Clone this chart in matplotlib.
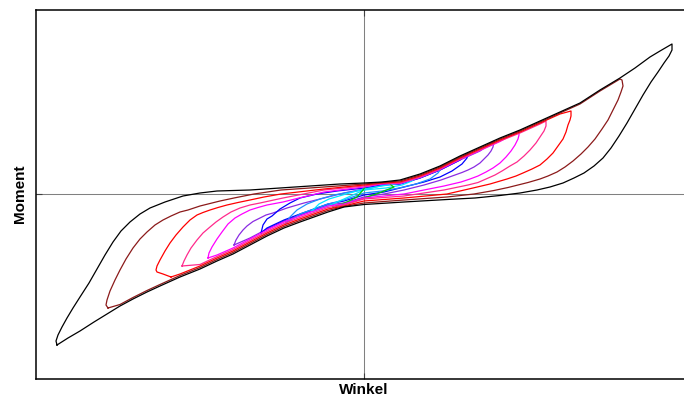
import numpy as np
import matplotlib.pyplot as plt

# shared envelope branches (Winkel, Moment)
upper_x = [30.8, 29.6, 28.6, 27.1, 25.6, 23.6, 21.6, 19.6, 17.6, 15.6, 13.6, 11.6, 9.6, 8.6, 7.6, 6.6, 5.6, 4.6, 3.6]
upper_y = [15.0, 14.3, 13.7, 12.6, 11.6, 10.4, 9.1, 8.2, 7.3, 6.4, 5.6, 4.7, 3.8, 3.3, 2.8, 2.4, 2.0, 1.7, 1.4]
lower_x = [-30.8, -29.6, -28.4, -27.0, -25.7, -24.4, -23.1, -21.7, -20.4, -18.4, -16.4, -14.7, -13.1, -11.4,
           -9.7, -8.0, -6.4, -5.0, -3.6]
lower_y = [-15.1, -14.4, -13.7, -12.8, -12.0, -11.2, -10.5, -9.8, -9.2, -8.3, -7.5, -6.7, -6.0, -5.1,
           -4.2, -3.4, -2.8, -2.3, -1.8]

# loading branch (-> right tip) and unloading branch (-> left tip) of each cycle
rise_black = [(-2.0, -1.3), (0.0, -1.05), (4.0, -0.8), (8.3, -0.55), (11.1, -0.4), (13.6, -0.15), (15.6, 0.1),
              (17.3, 0.4), (18.6, 0.7), (19.9, 1.1), (21.0, 1.6), (22.0, 2.1), (23.0, 2.8), (23.9, 3.6),
              (24.7, 4.6), (25.5, 5.8), (26.3, 7.1), (27.1, 8.5), (27.9, 9.9), (28.7, 11.2), (29.4, 12.2),
              (30.0, 13.1), (30.5, 13.8), (30.8, 14.4), (30.8, 15.0)]
fall_black = [(1.8, 1.2), (0.0, 1.1), (-2.4, 1.0), (-5.4, 0.8), (-8.4, 0.6), (-11.4, 0.4), (-14.7, 0.3),
              (-16.4, 0.1), (-18.1, -0.2), (-19.9, -0.8), (-21.4, -1.4), (-22.4, -2.0), (-23.4, -2.8),
              (-24.3, -3.7), (-25.1, -4.8), (-25.9, -6.1), (-26.7, -7.5), (-27.5, -8.9), (-28.4, -10.3),
              (-29.1, -11.4), (-29.7, -12.4), (-30.2, -13.3), (-30.6, -14.1), (-30.8, -14.7), (-30.7, -15.1)]

rise_brown = [(-2.0, -1.25), (0.0, -0.9), (4.0, -0.6), (8.3, -0.3), (11.0, 0.0), (13.0, 0.35), (14.4, 0.65),
              (16.4, 1.15), (17.6, 1.5), (18.4, 1.8), (19.3, 2.2), (20.1, 2.7), (20.9, 3.3), (21.7, 4.0),
              (22.4, 4.7), (23.1, 5.5), (23.8, 6.5), (24.4, 7.4), (24.9, 8.4), (25.4, 9.4), (25.7, 10.2),
              (25.9, 10.8), (25.8, 11.4)]
fall_brown = [(1.8, 1.15), (0.0, 1.0), (-4.0, 0.7), (-8.3, 0.4), (-11.0, 0.0), (-13.0, -0.4), (-14.4, -0.7),
              (-16.4, -1.2), (-17.6, -1.6), (-18.4, -1.8), (-19.3, -2.2), (-20.1, -2.6), (-20.9, -3.1),
              (-21.7, -3.8), (-22.4, -4.5), (-23.1, -5.4), (-23.8, -6.5), (-24.4, -7.6), (-24.9, -8.6),
              (-25.4, -9.7), (-25.7, -10.6), (-25.8, -11.1), (-25.6, -11.4)]

rise_red = [(-2.0, -1.2), (0.0, -0.7), (4.0, -0.4), (8.3, 0.0), (10.9, 0.6), (12.6, 1.0), (14.3, 1.5), (15.2, 1.8),
            (15.9, 2.1), (16.8, 2.5), (17.6, 2.9), (18.3, 3.5), (18.9, 4.1), (19.4, 4.8), (19.9, 5.5), (20.2, 6.2),
            (20.4, 6.9), (20.6, 7.4), (20.7, 7.8), (20.7, 8.3)]
fall_red = [(1.8, 1.1), (0.0, 0.9), (-4.0, 0.5), (-8.3, 0.0), (-10.0, -0.3), (-11.4, -0.6), (-12.6, -0.85),
            (-13.7, -1.1), (-14.6, -1.35), (-15.4, -1.6), (-16.1, -1.85), (-16.7, -2.1), (-17.4, -2.6),
            (-18.1, -3.3), (-18.8, -4.1), (-19.4, -4.9), (-19.9, -5.7), (-20.4, -6.6), (-20.7, -7.2),
            (-20.8, -7.6), (-20.7, -7.8), (-20.1, -8.0), (-19.3, -8.3)]

rise_pink = [(-2.0, -1.1), (0.0, -0.5), (4.0, -0.2), (8.0, 0.4), (10.4, 0.9), (11.4, 1.15), (12.2, 1.5),
             (13.1, 1.9), (13.8, 2.3), (14.6, 2.8), (15.3, 3.2), (16.0, 3.8), (16.6, 4.4), (17.2, 5.1),
             (17.6, 5.7), (18.0, 6.3), (18.2, 6.8), (18.2, 7.3)]
fall_pink = [(1.8, 1.05), (0.0, 0.8), (-4.0, 0.4), (-8.1, -0.4), (-10.4, -0.9), (-11.4, -1.1), (-12.4, -1.4),
             (-13.3, -1.8), (-14.1, -2.3), (-14.8, -2.8), (-15.4, -3.3), (-16.1, -3.9), (-16.7, -4.6),
             (-17.3, -5.4), (-17.7, -6.1), (-18.0, -6.7), (-18.2, -7.2)]

rise_magenta = [(-2.0, -1.0), (0.0, -0.4), (4.0, 0.0), (8.0, 0.8), (9.7, 1.2), (10.6, 1.5), (11.4, 1.8),
                (12.2, 2.2), (12.9, 2.6), (13.6, 3.1), (14.2, 3.7), (14.7, 4.3), (15.1, 4.9), (15.4, 5.5),
                (15.5, 5.9), (15.5, 6.3)]
fall_magenta = [(1.8, 1.0), (0.0, 0.7), (-4.0, 0.2), (-6.5, -0.4), (-8.1, -0.8), (-9.7, -1.1), (-10.6, -1.35),
                (-11.4, -1.6), (-12.2, -2.0), (-12.9, -2.4), (-13.6, -3.0), (-14.2, -3.8), (-14.7, -4.5),
                (-15.2, -5.3), (-15.5, -5.9), (-15.6, -6.4)]

rise_violet = [(-2.0, -0.9), (0.0, -0.3), (2.0, 0.0), (4.0, 0.4), (6.0, 0.9), (7.7, 1.4), (9.1, 1.9), (9.8, 2.15),
               (10.4, 2.4), (11.0, 2.7), (11.6, 3.1), (12.0, 3.5), (12.4, 3.9), (12.7, 4.3), (12.9, 4.7),
               (13.0, 5.3)]
fall_violet = [(1.8, 0.95), (0.0, 0.5), (-2.0, 0.1), (-4.0, -0.4), (-6.0, -0.9), (-7.7, -1.4), (-9.1, -1.9),
               (-9.8, -2.1), (-10.4, -2.4), (-11.1, -2.75), (-11.7, -3.2), (-12.1, -3.6), (-12.5, -4.1),
               (-12.8, -4.6), (-13.0, -5.1)]

rise_blue = [(-2.0, -0.7), (0.0, -0.1), (2.0, 0.2), (4.0, 0.7), (6.0, 1.2), (7.6, 1.7), (8.8, 2.3), (9.8, 3.0),
             (10.3, 3.6), (10.4, 4.1)]
fall_blue = [(1.8, 0.9), (0.0, 0.6), (-2.7, 0.3), (-4.7, 0.0), (-6.4, -0.4), (-7.4, -0.9), (-8.4, -1.5),
             (-9.2, -2.2), (-9.7, -2.5), (-10.1, -3.1), (-10.3, -3.9)]

rise_azure = [(-2.0, -0.6), (0.0, 0.1), (1.8, 0.3), (3.5, 0.6), (5.2, 1.0), (6.6, 1.5), (7.4, 2.1), (7.8, 2.7)]
fall_azure = [(1.8, 0.85), (0.0, 0.4), (-1.4, 0.2), (-3.0, -0.1), (-4.4, -0.5), (-5.7, -1.0), (-6.7, -1.6),
              (-7.4, -2.3), (-7.8, -2.9)]

rise_cyan = [(-2.0, -0.5), (0.0, 0.4), (2.2, 0.6), (3.8, 0.9), (4.8, 1.3), (5.2, 1.7)]
fall_cyan = [(1.8, 0.8), (0.0, 0.5), (-1.8, 0.0), (-3.5, -0.5), (-4.5, -1.0), (-5.2, -1.7)]

rise_green = [(-3.1, -1.3), (-1.5, -0.9), (0.0, -0.4), (1.5, 0.1), (3.0, 0.7), (2.7, 0.9), (2.5, 1.2)]
fall_green = [(1.2, 1.0), (0.1, 0.7), (-0.1, 0.4), (-0.7, -0.3), (-1.7, -0.8), (-3.1, -1.3)]

# outermost cycle first; layer decides which line shows where they touch
cycles = [
    (rise_black, fall_black, '#000000', 20),
    (rise_brown, fall_brown, '#8b1a1a', 19),
    (rise_red, fall_red, '#ff0000', 18),
    (rise_pink, fall_pink, '#ff2a8c', 17),
    (rise_magenta, fall_magenta, '#ff00ff', 16),
    (rise_violet, fall_violet, '#8a2be2', 10),
    (rise_blue, fall_blue, '#0000ff', 11),
    (rise_azure, fall_azure, '#1e90ff', 12),
    (rise_cyan, fall_cyan, '#00e5ff', 13),
    (rise_green, fall_green, '#00cc00', 14),
]

# how far each cycle sits inside the shared envelope
lower_shift = [0.0, 0.15, 0.3, 0.45, 0.6, 0.7, 0.8, 0.8, 0.6, 0.0]
upper_shift = [0.0, 0.1, 0.2, 0.3, 0.35, 0.4, 0.4, 0.35, 0.3, 0.0]


def cycle_path(rise, fall, k):
    rx, ry = np.array(rise).T
    fx, fy = np.array(fall).T
    lx = np.array(lower_x)
    ly = np.array(lower_y) + lower_shift[k]
    ux = np.array(upper_x)
    uy = np.array(upper_y) - upper_shift[k]
    lo = (lx > fx[-1]) & (lx < rx[0])
    up = (ux < rx[-1]) & (ux > fx[0])
    x = np.concatenate([[fx[-1]], lx[lo], rx, ux[up], fx])
    y = np.concatenate([[fy[-1]], ly[lo], ry, uy[up], fy])
    return x, y


fig = plt.figure(figsize=(6.84, 3.99), dpi=100)
ax = fig.add_axes([36 / 684, 20 / 399, 656 / 684, 369 / 399])

ax.axhline(0, color='#808080', lw=0.75, zorder=1)
ax.axvline(0, color='#808080', lw=0.75, zorder=1)

for k, (rise, fall, color, layer) in enumerate(cycles):
    x, y = cycle_path(rise, fall, k)
    ax.plot(x, y, color=color, lw=0.9, solid_joinstyle='round', zorder=layer)

ax.set_xlim(-32.8, 32.8)
ax.set_ylim(-18.5, 18.4)
ax.set_xticks([0])
ax.set_yticks([0])
ax.tick_params(direction='in', length=4, width=0.8, color='#404040', labelbottom=False, labelleft=False,
               top=True, right=False)
for side in ['left', 'top', 'bottom']:
    ax.spines[side].set_linewidth(1.1)
ax.spines['right'].set_visible(False)

fig.text(20 / 684, 1 - 194 / 399, 'Moment', rotation=90, ha='center', va='center',
         fontsize=11, fontweight='bold', family='Liberation Sans')
fig.text(364 / 684, 1 - 390 / 399, 'Winkel', ha='center', va='center',
         fontsize=11, fontweight='bold', family='Liberation Sans')

fig.savefig('out.png', dpi=100)
